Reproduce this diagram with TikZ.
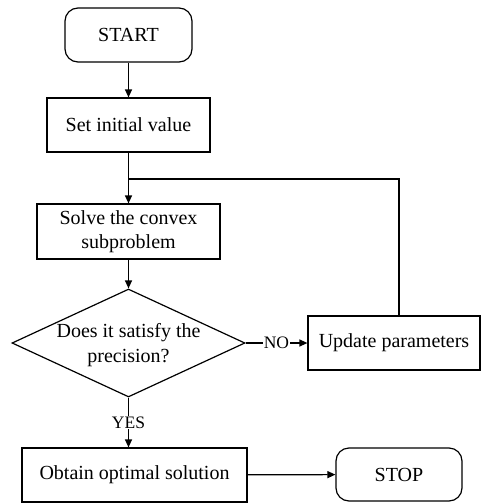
\documentclass[tikz,border=0pt]{standalone}
\usepackage{fontspec}
\setmainfont{Liberation Serif}
\usetikzlibrary{shapes.geometric,arrows.meta}
\begin{document}
\begin{tikzpicture}[x=1pt,y=-1pt,
  every node/.style={font=\fontsize{20}{24}\selectfont},
  flow/.style={line width=1.2pt},
  arr/.style={flow,-{Triangle[length=8pt,width=7pt]}},
  terminal/.style={draw,line width=1.2pt,rounded corners=13pt,inner sep=0pt},
  procbox/.style={draw,line width=1.2pt,inner sep=0pt,align=center},
  decision/.style={draw,line width=1.2pt,diamond,inner sep=0pt},
  tag/.style={fill=white,inner sep=0.5pt,font=\fontsize{17.5}{20}\selectfont}]
\useasboundingbox (0,0) rectangle (481,504);

% nodes
\node[terminal,minimum width=127pt,minimum height=54pt] (start) at (128.5,35) {START};
\node[procbox,minimum width=163pt,minimum height=54pt] (init) at (128.5,125) {Set initial value};
\node[procbox,minimum width=183pt,minimum height=55pt] (solve) at (128.5,231.5) {Solve the convex\\subproblem};
\node[decision,minimum width=233pt,minimum height=108pt] (dec) at (128.5,343) {};
\node[align=center,font=\fontsize{20}{25}\selectfont] (dectext) at (128.5,345) {Does it satisfy the\\precision?};
\node[procbox,minimum width=172pt,minimum height=54pt] (upd) at (394,343) {Update parameters};
\node[procbox,minimum width=225pt,minimum height=54pt] (obt) at (134.5,475) {Obtain optimal solution};
\node[terminal,minimum width=126pt,minimum height=53pt] (stop) at (399,474.5) {STOP};
\coordinate (jn) at (128.5,179);
\coordinate (loop) at (399,316);

% connectors
\draw[arr] (start) -- (init);
\draw[arr] (init) -- (solve);
\draw[flow] (loop) |- (jn);
\draw[arr] (solve) -- (dec.north);
\draw[arr] (dec.east) -- node[tag] {NO} (upd.west);
\draw[arr] (dec.south) -- node[tag] {YES} (dec.south |- obt.north);
\draw[arr] (obt) -- (stop);
\end{tikzpicture}
\end{document}
